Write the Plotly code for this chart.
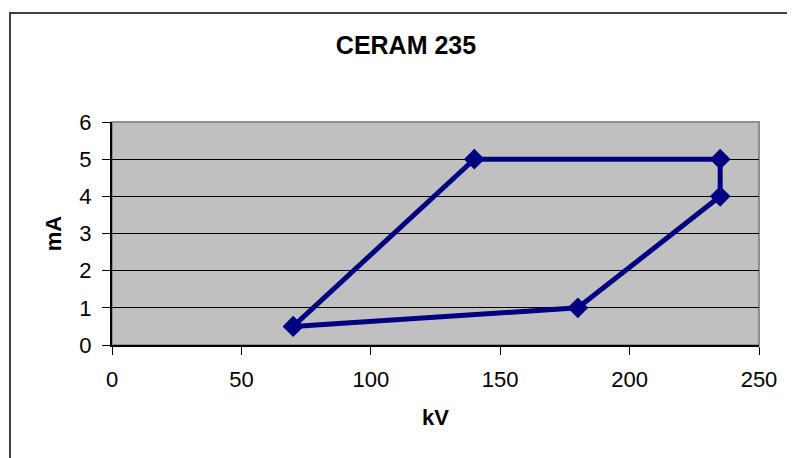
import plotly.graph_objects as go

kv = [70, 140, 235, 235, 180, 70]
ma = [0.5, 5, 5, 4, 1, 0.5]
x_ticks = [0, 50, 100, 150, 200, 250]
y_ticks = [0, 1, 2, 3, 4, 5, 6]

# page body has an 8px margin; work in figure coordinates
W, H = 787, 450
L, R, T, B = 104, 751, 114, 337
FONT = "Arial, Liberation Sans, sans-serif"

fig = go.Figure()
fig.add_trace(go.Scatter(
    x=kv, y=ma, mode="lines+markers",
    line=dict(color="#000080", width=5),
    marker=dict(symbol="diamond", size=16, color="#000080"),
    showlegend=False, cliponaxis=False,
))

pw, ph = R - L, B - T
fig.add_shape(type="rect", xref="paper", yref="paper",
              x0=(2 - L) / pw, x1=(830 - L) / pw,
              y0=1 - (480 - T) / ph, y1=1 + (T - 5) / ph,
              line=dict(color="#404040", width=2), layer="below")
fig.add_shape(type="rect", xref="paper", yref="paper",
              x0=0, x1=1, y0=0, y1=1,
              line=dict(color="#909090", width=2), layer="below")

fig.update_layout(
    width=W, height=H,
    margin=dict(l=L, r=W - R, t=T, b=H - B, pad=0, autoexpand=False),
    paper_bgcolor="white", plot_bgcolor="#c0c0c0",
    font=dict(family=FONT, size=22, color="black"),
    title=dict(text="<b>CERAM 235</b>", font=dict(size=25, family=FONT),
               xref="container", yref="container", x=398 / W, y=1 - 37 / H,
               xanchor="center", yanchor="middle"),
    xaxis=dict(range=[0, 250], tickvals=x_ticks, ticks="outside", ticklen=8,
               tickcolor="black", showline=True, linecolor="black", linewidth=2,
               showgrid=False, zeroline=False, ticklabelstandoff=6,
               title=dict(text="<b>kV</b>", font=dict(size=22), standoff=18)),
    yaxis=dict(range=[0, 6], tickvals=y_ticks, ticks="outside", ticklen=8,
               tickcolor="black", showline=True, linecolor="black", linewidth=2,
               showgrid=True, gridcolor="black", gridwidth=1, zeroline=False,
               ticklabelstandoff=6,
               title=dict(text="<b>mA</b>", font=dict(size=22), standoff=12)),
)

fig.write_html("out.html")
